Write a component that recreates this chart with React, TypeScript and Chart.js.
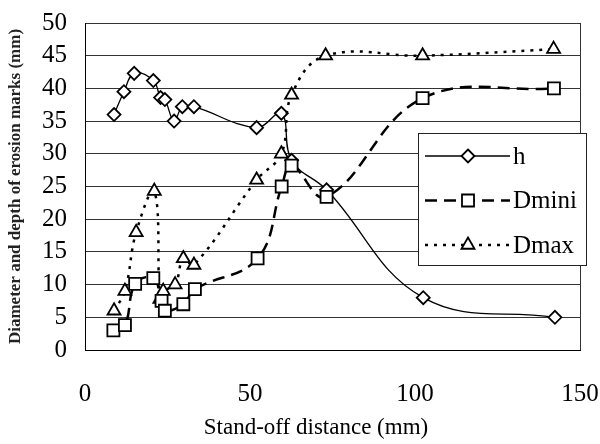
import React, { useEffect, useRef } from "react";
import { Chart, registerables } from "chart.js";

Chart.register(...registerables);

// ---- data ----
const hX = [8.8, 11.8, 14.9, 20.7, 22.9, 24.2, 27.0, 29.5, 33.0, 52.0, 59.5, 62.6, 73.2, 102.5, 142.4];
const hY = [36, 39.5, 42.3, 41.2, 38.6, 38.3, 35, 37.2, 37.2, 34, 36.2, 29, 24.5, 8, 5];

const dminiX = [8.6, 12.1, 15.2, 20.7, 23.2, 24.2, 29.8, 33.3, 52.3, 59.6, 62.6, 73.2, 102.3, 142.1];
const dminiY = [3, 3.8, 10.1, 11, 7.5, 6, 7, 9.3, 14, 25, 28.2, 23.4, 38.5, 40];

const dmaxX = [8.8, 12.1, 15.5, 21.0, 22.7, 23.7, 27.3, 29.8, 33.0, 52.0, 59.5, 62.6, 72.9, 102.3, 142.0];
const dmaxY = [6, 9, 18, 24.3, 7.8, 9, 10, 14, 13, 26, 30, 39, 45, 45, 46];

const seriesNames = ["h", "Dmini", "Dmax"];
const xAxisTitle = "Stand-off distance (mm)";
const yAxisTitle = "Diameter and depth of erosion marks (mm)";
const xMin = 0, xMax = 150, xStep = 50;
const yMin = 0, yMax = 50, yStep = 5;

const FONT = "'Liberation Serif', 'Times New Roman', serif";

const toPts = (xs: number[], ys: number[]) => xs.map((x, i) => ({ x, y: ys[i] }));

function drawMarker(ctx: CanvasRenderingContext2D, style: string, x: number, y: number, r: number) {
  ctx.beginPath();
  if (style === "rectRot") {
    ctx.moveTo(x, y - r);
    ctx.lineTo(x + r, y);
    ctx.lineTo(x, y + r);
    ctx.lineTo(x - r, y);
    ctx.closePath();
  } else if (style === "rect") {
    const s = r * Math.SQRT1_2;
    ctx.rect(x - s, y - s, 2 * s, 2 * s);
  } else {
    const w = r * Math.sin(Math.PI / 3);
    ctx.moveTo(x, y - r);
    ctx.lineTo(x + w, y + r / 2);
    ctx.lineTo(x - w, y + r / 2);
    ctx.closePath();
  }
  ctx.fillStyle = "#fff";
  ctx.fill();
  ctx.stroke();
}

const boxLegend = {
  id: "boxLegend",
  afterDraw(chart: any) {
    const ctx: CanvasRenderingContext2D = chart.ctx;
    ctx.save();
    const bx = 418, by = 133, bw = 168, bh = 132;
    ctx.fillStyle = "#fff";
    ctx.fillRect(bx, by, bw, bh);
    ctx.strokeStyle = "#222";
    ctx.lineWidth = 1;
    ctx.setLineDash([]);
    ctx.strokeRect(bx + 0.5, by + 0.5, bw, bh);
    chart.data.datasets.forEach((ds: any, i: number) => {
      const y = by + 23 + i * 44.5;
      ctx.strokeStyle = "#000";
      ctx.lineWidth = ds.borderWidth;
      ctx.setLineDash(ds.borderDash || []);
      ctx.beginPath();
      ctx.moveTo(425, y);
      ctx.lineTo(510, y);
      ctx.stroke();
      ctx.setLineDash([]);
      ctx.lineWidth = ds.pointBorderWidth;
      drawMarker(ctx, ds.pointStyle, 468, y, ds.pointRadius);
      ctx.fillStyle = "#000";
      ctx.font = `25px ${FONT}`;
      ctx.textAlign = "left";
      ctx.textBaseline = "middle";
      ctx.fillText(ds.label, 513, y + 1);
    });
    // x axis title
    ctx.font = `23px ${FONT}`;
    ctx.textAlign = "center";
    ctx.textBaseline = "middle";
    ctx.fillStyle = "#000";
    ctx.fillText(xAxisTitle, 316, 428);
    ctx.restore();
  },
};

export default function App() {
  const ref = useRef<HTMLCanvasElement>(null);
  useEffect(() => {
    document.body.style.margin = "0";
    const canvas = ref.current!;
    const chart = new Chart(canvas, {
      type: "line",
      data: {
        datasets: [
          {
            label: seriesNames[0],
            data: toPts(hX, hY),
            borderColor: "#000",
            borderWidth: 1.3,
            tension: 0.4,
            pointStyle: "rectRot",
            pointRadius: 6.5,
            pointBorderWidth: 1.8,
            pointBackgroundColor: "#fff",
            pointBorderColor: "#000",
            order: 3,
          },
          {
            label: seriesNames[1],
            data: toPts(dminiX, dminiY),
            borderColor: "#000",
            borderWidth: 2.5,
            borderDash: [12, 7],
            tension: 0.4,
            pointStyle: "rect",
            pointRadius: 8.5,
            pointBorderWidth: 1.8,
            pointBackgroundColor: "#fff",
            pointBorderColor: "#000",
            order: 1,
          },
          {
            label: seriesNames[2],
            data: toPts(dmaxX, dmaxY),
            borderColor: "#000",
            borderWidth: 2.5,
            borderDash: [3, 6],
            tension: 0.4,
            pointStyle: "triangle",
            pointRadius: 7.5,
            pointBorderWidth: 1.8,
            pointBackgroundColor: "#fff",
            pointBorderColor: "#000",
            order: 2,
          },
        ],
      },
      options: {
        responsive: false,
        animation: false,
        devicePixelRatio: 1,
        layout: { padding: { top: 23, right: 20, left: 0, bottom: 0 } },
        plugins: {
          legend: { display: false },
          tooltip: { enabled: false },
        },
        scales: {
          x: {
            type: "linear",
            min: xMin,
            max: xMax,
            ticks: {
              stepSize: xStep,
              autoSkip: false,
              color: "#000",
              font: { family: FONT, size: 25 },
              padding: 0,
              maxRotation: 0,
            },
            grid: {
              drawTicks: true,
              tickLength: 29,
              tickColor: "rgba(0,0,0,0)",
              color: (c: any) => (c.tick && c.tick.value === xMax ? "#333" : "rgba(0,0,0,0)"),
              lineWidth: 1,
            },
            border: { display: true, color: "#000", width: 1 },
            afterFit: (s: any) => { s.height = 94; },
          },
          y: {
            type: "linear",
            min: yMin,
            max: yMax,
            ticks: {
              stepSize: yStep,
              autoSkip: false,
              color: "#000",
              font: { family: FONT, size: 25 },
              padding: 0,
            },
            grid: {
              drawTicks: true,
              tickLength: 18,
              tickColor: "rgba(0,0,0,0)",
              color: "#333",
              lineWidth: 1,
            },
            border: { display: true, color: "#000", width: 1 },
            title: {
              display: true,
              text: yAxisTitle,
              color: "#222",
              font: { family: FONT, size: 17, weight: "bold" },
              padding: { top: 5, bottom: 0 },
            },
            afterFit: (s: any) => { s.width = 85; },
          },
        },
      },
      plugins: [boxLegend],
    });
    return () => chart.destroy();
  }, []);
  return (
    <div style={{ width: 600, height: 444 }}>
      <canvas ref={ref} width={600} height={444} />
    </div>
  );
}
